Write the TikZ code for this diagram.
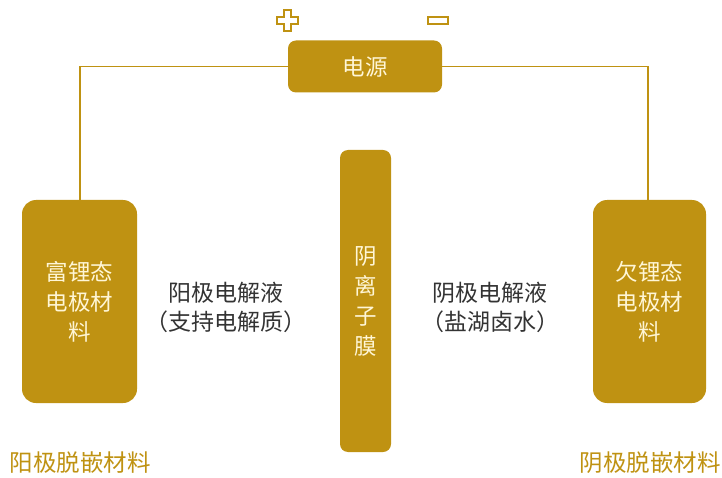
\documentclass[tikz,border=0pt]{standalone}
\usepackage{fontspec}
\newfontfamily\cjk{Noto Sans CJK SC}
\definecolor{gold}{HTML}{BF9212}
\definecolor{cream}{HTML}{FFF6D6}
\definecolor{txt}{HTML}{333333}
\tikzset{
  goldbox/.style={fill=gold, draw=none, rounded corners=14pt, inner sep=0pt, text=cream, font=\cjk\fontsize{22.5}{30}\selectfont, align=center},
  wire/.style={draw=gold, line width=1.2pt},
  lbl/.style={font=\cjk\fontsize{23}{29}\selectfont, text=txt, align=center, inner sep=0pt},
  goldlbl/.style={font=\cjk\fontsize{23.5}{26}\selectfont, text=gold, inner sep=0pt},
  sign/.style={draw=gold, line width=1.2pt, fill=white}
}
\begin{document}
\begin{tikzpicture}[x=1pt,y=-1pt]
\useasboundingbox (0,0) rectangle (722,478);
\node[goldbox, rounded corners=8pt, minimum width=154pt, minimum height=52pt] (power) at (365,66.5) {电源};
\node[goldbox, minimum width=115pt, minimum height=203pt] (left) at (79.5,301.5) {富锂态\\电极材\\料};
\node[goldbox, minimum width=113pt, minimum height=203pt] (right) at (649.5,301.5) {欠锂态\\电极材\\料};
\node[goldbox, rounded corners=8pt, minimum width=51pt, minimum height=302pt] (mem) at (365.5,301) {阴\\离\\子\\膜};
\coordinate (lc) at (80,66.5);
\coordinate (rc) at (648,66.5);
\draw[wire] (power.west) -- (lc) -- (left.north -| lc);
\draw[wire] (power.east) -- (rc) -- (right.north -| rc);
% plus sign
\draw[sign] (284,10) -- (291,10) -- (291,17) -- (298,17) -- (298,24) -- (291,24) -- (291,31) -- (284,31) -- (284,24) -- (277,24) -- (277,17) -- (284,17) -- cycle;
% minus sign
\draw[sign] (428,17) rectangle (448,24);
\node[lbl] (anode) at (226,307) {阳极电解液\\（支持电解质）};
\node[lbl] (cathode) at (490,307) {阴极电解液\\（盐湖卤水）};
\node[goldlbl] (ab) at (80,463) {阳极脱嵌材料};
\node[goldlbl] (cb) at (650,463) {阴极脱嵌材料};
\end{tikzpicture}
\end{document}
